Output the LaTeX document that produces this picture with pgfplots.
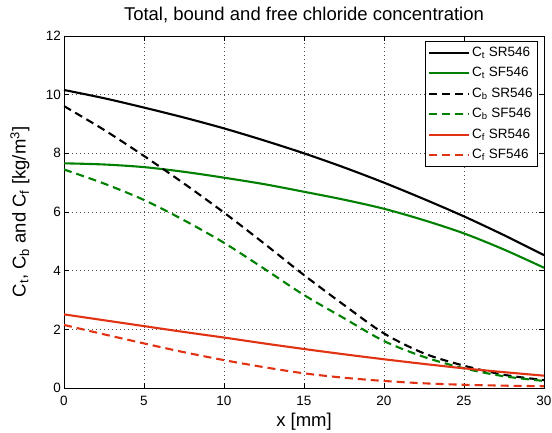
\documentclass[border=0pt]{standalone}
\usepackage{fontspec}
\setmainfont{Liberation Sans}
\usepackage{pgfplots}
\pgfplotsset{compat=1.18}
\definecolor{mgreen}{RGB}{0,128,0}
\definecolor{mred}{RGB}{225,50,20}
\begin{document}
\begin{tikzpicture}
\begin{axis}[
  scale only axis, width=480bp, height=352bp,
  xmin=0, xmax=30, ymin=0, ymax=12,
  xtick={0,5,...,30}, ytick={0,2,...,12},
  grid=major,
  major grid style={black!70, line width=0.5bp, dash pattern=on 0.7bp off 3.3bp},
  tick align=inside, tick pos=both, major tick length=5bp,
  axis line style={line width=0.8bp},
  every tick/.style={black, line width=0.6bp},
  /pgf/number format/assume math mode=true,
  ticklabel style={font=\fontsize{13.5bp}{15bp}\selectfont},
  xticklabel style={anchor=base, yshift=-17bp},
  yticklabel style={anchor=east, inner sep=1bp, xshift=-2bp},
  title={Total, bound and free chloride concentration},
  title style={at={(axis description cs:0.5,1)}, anchor=base, yshift=9.5bp, font=\fontsize{18.5bp}{20bp}\selectfont},
  xlabel={x [mm]},
  xlabel style={at={(axis description cs:0.5,0)}, anchor=base, yshift=-38bp, font=\fontsize{18.5bp}{20bp}\selectfont},
  ylabel={C\textsubscript{t}, C\textsubscript{b} and C\textsubscript{f} [kg/m\textsuperscript{3}]},
  ylabel style={at={(axis description cs:-0.0917,0.5)}, anchor=center, font=\fontsize{18.5bp}{20bp}\selectfont},
  legend cell align=left,
  legend image code/.code={\draw[line width=2.1bp, #1] (0bp,0bp) -- (40bp,0bp);},
  legend style={at={(axis description cs:0.9875,0.9858)}, anchor=north east,
    draw=black, line width=0.6bp, inner sep=3bp, row sep=3.5bp,
    font=\fontsize{13.5bp}{15bp}\selectfont,
    nodes={inner sep=2bp, text height=10bp, text depth=3bp}},
  every axis plot/.append style={line width=2.1bp, smooth},
]
\addplot[black] coordinates {(0,10.16) (2.5,9.88) (5,9.56) (7.5,9.22) (10,8.85) (12.5,8.44) (15,8.0) (17.5,7.52) (20,7.0) (22.5,6.44) (25,5.85) (27.5,5.21) (30,4.53)};
\addlegendentry{C\textsubscript{t} SR546}
\addplot[mgreen] coordinates {(0,7.66) (2.5,7.62) (5,7.53) (7.5,7.37) (10,7.17) (12.5,6.95) (15,6.69) (17.5,6.42) (20,6.11) (22.5,5.72) (25,5.27) (27.5,4.72) (30,4.1)};
\addlegendentry{C\textsubscript{t} SF546}
\addplot[black, dash pattern=on 8bp off 5bp] coordinates {(0,9.61) (2.5,8.8) (5,7.91) (7.5,6.97) (10,5.98) (12.5,4.93) (15,3.85) (17.5,2.83) (20,1.86) (22.5,1.18) (25,0.76) (27.5,0.45) (30,0.27)};
\addlegendentry{C\textsubscript{b} SR546}
\addplot[mgreen, dash pattern=on 8bp off 5bp] coordinates {(0,7.45) (2.5,6.97) (5,6.41) (7.5,5.72) (10,4.95) (12.5,4.07) (15,3.17) (17.5,2.38) (20,1.6) (22.5,1.06) (25,0.67) (27.5,0.4) (30,0.24)};
\addlegendentry{C\textsubscript{b} SF546}
\addplot[mred] coordinates {(0,2.51) (2.5,2.31) (5,2.11) (7.5,1.91) (10,1.72) (12.5,1.52) (15,1.33) (17.5,1.15) (20,0.98) (22.5,0.82) (25,0.67) (27.5,0.54) (30,0.42)};
\addlegendentry{C\textsubscript{f} SR546}
\addplot[mred, dash pattern=on 8bp off 5bp] coordinates {(0,2.15) (2.5,1.83) (5,1.52) (7.5,1.22) (10,0.95) (12.5,0.71) (15,0.5) (17.5,0.35) (20,0.24) (22.5,0.16) (25,0.11) (27.5,0.08) (30,0.06)};
\addlegendentry{C\textsubscript{f} SF546}
\end{axis}
\pgfresetboundingbox
\path[use as bounding box] ([shift={(-64bp,-45bp)}]current axis.south west) rectangle ([shift={(8bp,36bp)}]current axis.north east);
\end{tikzpicture}
\end{document}
